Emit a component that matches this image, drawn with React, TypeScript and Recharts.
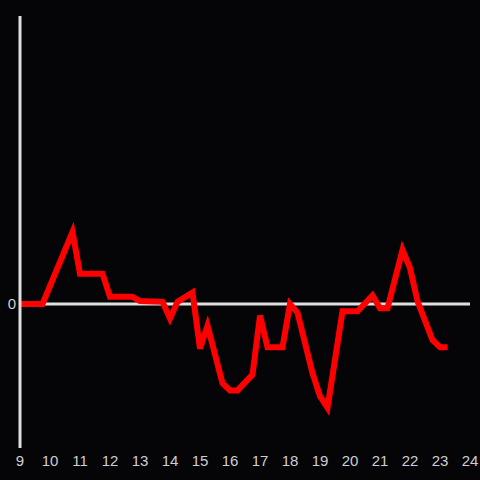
import { LineChart, Line, XAxis, YAxis, ReferenceLine } from "recharts";

const hours = [
  9, 9.75, 10.75, 11, 11.75, 12, 12.75, 13, 13.75, 14, 14.25, 14.75, 15, 15.25, 15.75, 16, 16.25, 16.75,
  17, 17.25, 17.75, 18, 18.25, 18.75, 19, 19.25, 19.75, 20, 20.25, 20.75, 21, 21.25, 21.75, 22, 22.25,
  22.75, 23, 23.25,
];
const values = [
  0, 0, 0.5, 0.21, 0.21, 0.05, 0.05, 0.02, 0.015, -0.1, 0.015, 0.08, -0.31, -0.15, -0.55, -0.6, -0.6, -0.49,
  -0.08, -0.3, -0.3, 0, -0.06, -0.48, -0.64, -0.72, -0.05, -0.05, -0.05, 0.06, -0.03, -0.03, 0.375, 0.25, 0.02,
  -0.25, -0.3, -0.3,
];
const xTicks = [9, 10, 11, 12, 13, 14, 15, 16, 17, 18, 19, 20, 21, 22, 23, 24];
const yTicks = [0];

const data = hours.map((h, i) => ({ h, v: values[i] }));

const FONT = "Liberation Sans, Arial, sans-serif";

const XTick = (props: any) => (
  <text x={props.x} y={466} textAnchor="middle" fill="#cfcfcf" fontSize={15} fontFamily={FONT}>
    {props.payload.value}
  </text>
);

const YTick = (props: any) => (
  <text x={16} y={props.y} dy="0.36em" textAnchor="end" fill="#cfcfcf" fontSize={15} fontFamily={FONT}>
    {props.payload.value}
  </text>
);

export default function App() {
  return (
    <div style={{ position: "fixed", left: 0, top: 0, width: 480, height: 480, background: "#050407" }}>
      <LineChart width={480} height={480} data={data} margin={{ top: 16, right: 10, bottom: 0, left: 0 }}>
        <XAxis
          dataKey="h"
          type="number"
          domain={[9, 24]}
          ticks={xTicks}
          axisLine={false}
          tickLine={false}
          height={32}
          tick={XTick}
        />
        <YAxis
          type="number"
          domain={[-1, 2]}
          ticks={yTicks}
          width={20}
          axisLine={{ stroke: "#e0e0e0", strokeWidth: 3 }}
          tickLine={false}
          tick={YTick}
        />
        <ReferenceLine y={0} stroke="#e0e0e0" strokeWidth={3} />
        <Line
          dataKey="v"
          stroke="#ff0000"
          strokeWidth={6}
          dot={false}
          activeDot={false}
          strokeLinejoin="miter"
          isAnimationActive={false}
        />
      </LineChart>
    </div>
  );
}
